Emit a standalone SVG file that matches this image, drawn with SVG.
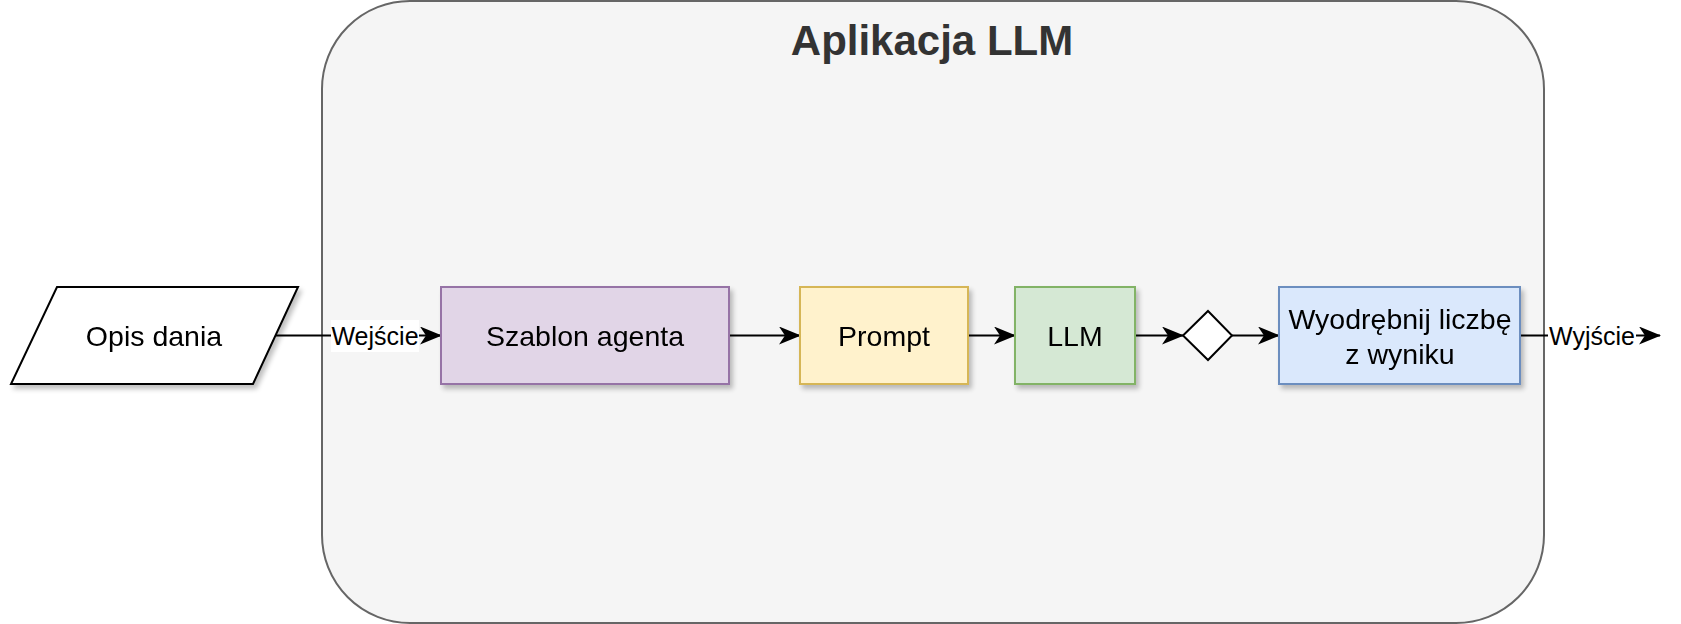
<svg xmlns="http://www.w3.org/2000/svg" width="1681" height="624" viewBox="0 0 1681 624">
<style>
.t{font-family:"Liberation Sans",Arial,Helvetica,sans-serif;font-size:28.5px;fill:#000;text-anchor:middle;dominant-baseline:central}
.lbl{font-family:"Liberation Sans",Arial,Helvetica,sans-serif;font-size:25px;fill:#000;text-anchor:middle;dominant-baseline:central}
.edge{stroke:#000;stroke-width:2;fill:none}
</style>
<defs>
<filter id="sh" x="-10%" y="-10%" width="130%" height="140%">
<feGaussianBlur in="SourceAlpha" stdDeviation="2.5"/>
<feOffset dx="3" dy="4" result="b"/>
<feComponentTransfer><feFuncA type="linear" slope="0.25"/></feComponentTransfer>
<feMerge><feMergeNode/><feMergeNode in="SourceGraphic"/></feMerge>
</filter>
<marker id="arr" viewBox="0 0 22 18" refX="21" refY="9" markerWidth="22" markerHeight="18" markerUnits="userSpaceOnUse" orient="auto">
<path d="M0,0 L22,9 L0,18 L6,9 Z" fill="#000"/>
</marker>
</defs>
<rect width="1681" height="624" fill="#ffffff"/>
<g id="container">
<rect x="322" y="1" width="1222" height="622" rx="88" ry="88" fill="#f5f5f5" stroke="#666666" stroke-width="2"/>
<text x="932" y="40" font-family="'Liberation Sans',Arial,Helvetica,sans-serif" font-size="42" font-weight="bold" fill="#333333" text-anchor="middle" dominant-baseline="central">Aplikacja LLM</text>
</g>
<g id="connectors">
<path class="edge" d="M276,335.5 L441,335.5" marker-end="url(#arr)"/>
<path class="edge" d="M729,335.5 L800,335.5" marker-end="url(#arr)"/>
<path class="edge" d="M968,335.5 L1015,335.5" marker-end="url(#arr)"/>
<path class="edge" d="M1135,335.5 L1183,335.5" marker-end="url(#arr)"/>
<path class="edge" d="M1232,335.5 L1279,335.5" marker-end="url(#arr)"/>
<path class="edge" d="M1520,335.5 L1660,335.5" marker-end="url(#arr)"/>
<rect x="331" y="320" width="88" height="32" fill="#ffffff"/>
<text class="lbl" x="375" y="336">Wejście</text>
<rect x="1548" y="320" width="88" height="32" fill="#ffffff"/>
<text class="lbl" x="1592" y="336">Wyjście</text>
</g>
<g id="opis" filter="url(#sh)">
<polygon points="57,287 298,287 253,384 11,384" fill="#ffffff" stroke="#000" stroke-width="2"/>
<text class="t" x="154" y="336">Opis dania</text>
</g>
<g id="szablon" filter="url(#sh)">
<rect x="441" y="287" width="288" height="97" fill="#e1d5e7" stroke="#9673a6" stroke-width="2"/>
<text class="t" x="585" y="336">Szablon agenta</text>
</g>
<g id="prompt" filter="url(#sh)">
<rect x="800" y="287" width="168" height="97" fill="#fff2cc" stroke="#d6b656" stroke-width="2"/>
<text class="t" x="884" y="336">Prompt</text>
</g>
<g id="llm" filter="url(#sh)">
<rect x="1015" y="287" width="120" height="97" fill="#d5e8d4" stroke="#82b366" stroke-width="2"/>
<text class="t" x="1075" y="336">LLM</text>
</g>
<g id="decision">
<polygon points="1208,311 1232,335.5 1208,360 1183,335.5" fill="#ffffff" stroke="#000" stroke-width="2"/>
</g>
<g id="wyodrebnij" filter="url(#sh)">
<rect x="1279" y="287" width="241" height="97" fill="#dae8fc" stroke="#6c8ebf" stroke-width="2"/>
<text class="t" x="1400" y="319">Wyodrębnij liczbę</text>
<text class="t" x="1400" y="354">z wyniku</text>
</g>
</svg>
